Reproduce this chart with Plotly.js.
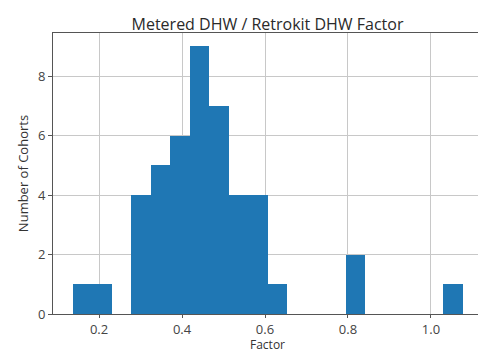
<!DOCTYPE html>
<html>
<head>
<meta charset="utf-8">
<script src="https://cdn.plot.ly/plotly-3.0.1.min.js"></script>
<style>
html, body { margin: 0; padding: 0; overflow: hidden; background: #fff; }
#chart { width: 490px; height: 353px; }
</style>
</head>
<body>
<div id="chart"></div>
<script>
// Histogram bin edges (20 bins) and counts
const binEdges = [0.136, 0.183, 0.230, 0.277, 0.324, 0.371, 0.418, 0.465, 0.512, 0.559, 0.606,
                  0.653, 0.700, 0.747, 0.794, 0.841, 0.888, 0.935, 0.982, 1.029, 1.076];
const counts = [1, 1, 0, 4, 5, 6, 9, 7, 4, 4, 1, 0, 0, 0, 2, 0, 0, 0, 0, 1];
const xTickVals = [0.2, 0.4, 0.6, 0.8, 1.0];
const xTickText = ['0.2', '0.4', '0.6', '0.8', '1.0'];
const yTickVals = [0, 2, 4, 6, 8];

const centers = counts.map((c, i) => (binEdges[i] + binEdges[i + 1]) / 2);
const widths = counts.map((c, i) => binEdges[i + 1] - binEdges[i]);

const lo = binEdges[0], hi = binEdges[binEdges.length - 1];
const pad = (hi - lo) * 0.05;
const ymax = Math.max(...counts) * 1.05;

const font = 'Open Sans, DejaVu Sans, sans-serif';

Plotly.newPlot('chart', [{
  type: 'bar',
  x: centers,
  y: counts,
  width: widths,
  marker: { color: '#1f77b4', line: { width: 0 } },
  hoverinfo: 'x+y'
}], {
  width: 490,
  height: 353,
  margin: { l: 53, r: 8, t: 33, b: 39, pad: 0 },
  paper_bgcolor: '#fff',
  plot_bgcolor: '#fff',
  showlegend: false,
  bargap: 0,
  title: {
    text: 'Metered DHW / Retrokit DHW Factor',
    font: { family: font, size: 16, color: '#2a2a2a' },
    x: 0.5, xref: 'paper', xanchor: 'center',
    y: 1, yref: 'paper', yanchor: 'bottom', pad: { b: 3 }
  },
  xaxis: {
    range: [lo - pad, hi + pad],
    tickvals: xTickVals,
    ticktext: xTickText,
    ticks: 'outside', ticklen: 3, tickcolor: '#555', tickwidth: 1,
    showgrid: true, gridcolor: '#c8c8c8', gridwidth: 1,
    showline: true, linecolor: '#555', linewidth: 1, mirror: true,
    zeroline: false,
    tickfont: { family: font, size: 13, color: '#444' }
  },
  yaxis: {
    range: [0, ymax],
    tickvals: yTickVals,
    ticks: 'outside', ticklen: 4, tickcolor: '#555', tickwidth: 1,
    showgrid: true, gridcolor: '#c8c8c8', gridwidth: 1,
    showline: true, linecolor: '#555', linewidth: 1, mirror: true,
    zeroline: false,
    tickfont: { family: font, size: 13, color: '#444' },
    title: { text: 'Number of Cohorts', font: { family: font, size: 13, color: '#333' }, standoff: 6 }
  },
  annotations: [{
    text: 'Factor',
    xref: 'paper', yref: 'paper', x: 0.5 - (490 - 478) / 2 / (490 - 61) * 0, y: 0,
    xanchor: 'center', yanchor: 'bottom', yshift: -40,
    showarrow: false, borderpad: 0,
    font: { family: font, size: 12, color: '#333' }
  }]
}, { displayModeBar: false, staticPlot: true });
</script>
</body>
</html>
